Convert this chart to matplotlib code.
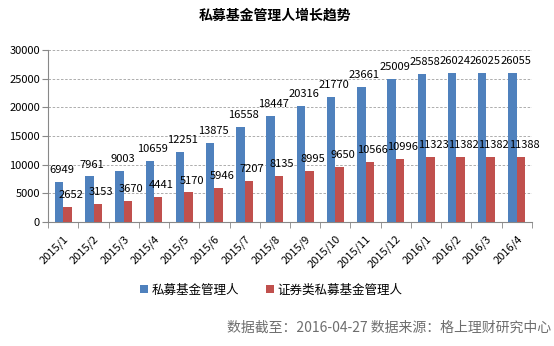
import numpy as np
import matplotlib
matplotlib.use('Agg')
import matplotlib.pyplot as plt

plt.rcParams['font.family'] = ['Noto Sans CJK SC', 'DejaVu Sans']

months = ['2015/1', '2015/2', '2015/3', '2015/4', '2015/5', '2015/6',
          '2015/7', '2015/8', '2015/9', '2015/10', '2015/11', '2015/12',
          '2016/1', '2016/2', '2016/3', '2016/4']
all_managers = [6949, 7961, 9003, 10659, 12251, 13875, 16558, 18447,
                20316, 21770, 23661, 25009, 25858, 26024, 26025, 26055]
sec_managers = [2652, 3153, 3670, 4441, 5170, 5946, 7207, 8135,
                8995, 9650, 10566, 10996, 11323, 11382, 11382, 11388]
yticks = [0, 5000, 10000, 15000, 20000, 25000, 30000]

BLUE = '#4F81BD'
RED = '#C0504D'

fig = plt.figure(figsize=(5.54, 3.46), dpi=100)
ax = fig.add_axes([0.087, 0.358, 0.873, 0.497])

x = np.arange(len(months))
w = 0.28
b1 = ax.bar(x - w / 2, all_managers, w, color=BLUE, label='私募基金管理人', zorder=3)
b2 = ax.bar(x + w / 2, sec_managers, w, color=RED, label='证券类私募基金管理人', zorder=3)

# подписи значений над столбиками
for bars, vals in [(b1, all_managers), (b2, sec_managers)]:
    for rect, v in zip(bars, vals):
        ax.annotate(str(v), (rect.get_x() + rect.get_width() / 2 + 0.1, v),
                    xytext=(0, 5), textcoords='offset points',
                    ha='center', va='bottom', fontsize=8)

ax.set_xlim(-0.5, len(months) - 0.5)
ax.set_ylim(0, 30000)
ax.set_yticks(yticks)
ax.set_yticklabels([str(t) for t in yticks], fontsize=8)
ax.yaxis.grid(True, linestyle=(0, (3, 2)), color='#a0a0a0', linewidth=0.6, zorder=0)

ax.set_xticks(x)
ax.set_xticklabels(months, rotation=45, ha='right', rotation_mode='anchor', fontsize=8)
ax.tick_params(axis='x', length=0, pad=8)
ax.set_xticks(np.arange(-0.5, len(months)), minor=True)
ax.tick_params(axis='x', which='minor', length=4, color='#888888', direction='out')
ax.tick_params(axis='y', length=4, color='#888888', pad=2)

for side in ['top', 'right']:
    ax.spines[side].set_visible(False)
for side in ['left', 'bottom']:
    ax.spines[side].set_color('#888888')
    ax.spines[side].set_linewidth(0.8)

fig.text(0.497, 0.955, '私募基金管理人增长趋势', ha='center', va='center',
         fontsize=10, fontweight='bold')

fig.legend(handles=[b1, b2], loc='center', bbox_to_anchor=(0.49, 0.162),
           ncol=2, frameon=False, fontsize=9, handlelength=0.6, handleheight=0.6,
           handletextpad=0.3, columnspacing=2.2)

fig.text(0.995, 0.052, '数据截至：2016-04-27 数据来源：格上理财研究中心',
         ha='right', va='center', fontsize=10, color='#6e6e6e')

fig.savefig('out.png', dpi=100)
